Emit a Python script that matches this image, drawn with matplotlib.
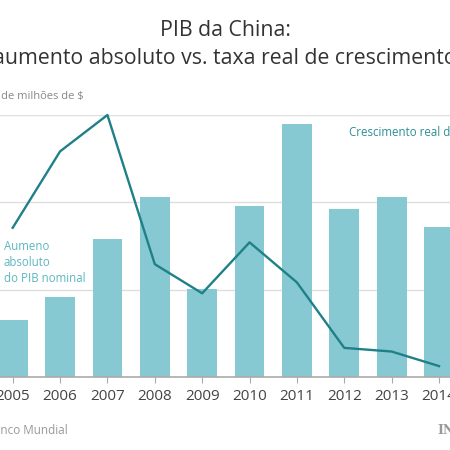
import numpy as np
from matplotlib import pyplot as plt

plt.rcParams['font.family'] = ['Open Sans', 'DejaVu Sans']

# dados
anos = ['2005', '2006', '2007', '2008', '2009', '2010', '2011', '2012', '2013', '2014']
aumento = [326, 460, 788, 1032, 502, 979, 1446, 962, 1032, 860]   # mil milhoes de $
crescimento = [11.1, 13.2, 14.2, 10.1, 9.3, 10.7, 9.6, 7.8, 7.7, 7.3]  # %

cor_barra = '#86c9d2'
cor_linha = '#1f8187'
W = 450.0

fig = plt.figure(figsize=(4.5, 4.5), dpi=100)
fig.patch.set_facecolor('white')

# eixos maiores que a figura (o original esta recortado)
px_l, px_r = 12.7 - 0.8 * 47.37, 439 + 0.8 * 47.37
ax = fig.add_axes([px_l / W, (W - 377) / W, (px_r - px_l) / W, 262 / W])
x = np.arange(len(anos))
ax.bar(x, aumento, width=0.63, color=cor_barra, zorder=2)
ax.set_xlim(-0.8, 9.8)
ax.set_ylim(0, 1500)
ax.set_yticks([500, 1000, 1500])
ax.yaxis.grid(True, color='#dedede', linewidth=1, zorder=0)
ax.tick_params(axis='y', length=0, labelleft=False)
ax.set_xticks(x)
ax.set_xticklabels(anos, fontsize=11, color='#444444')
ax.tick_params(axis='x', length=4, color='#aaaaaa', pad=5)
for s in ['top', 'left', 'right']:
    ax.spines[s].set_visible(False)
ax.spines['bottom'].set_color('#aaaaaa')
ax.spines['bottom'].set_linewidth(1.2)
ax.set_axisbelow(True)

ax2 = ax.twinx()
ax2.plot(x, crescimento, color=cor_linha, linewidth=1.7, zorder=3, clip_on=False)
ax2.set_ylim(7.0, 14.2)
ax2.set_yticks([])
for s in ['top', 'left', 'right', 'bottom']:
    ax2.spines[s].set_visible(False)

# textos
fig.text(225 / W, 1 - 30 / W, 'PIB da China:', ha='center', va='center',
         fontsize=15.3, color='#333333')
fig.text(225 / W, 1 - 58 / W, 'aumento absoluto vs. taxa real de crescimento',
         ha='center', va='center', fontsize=15.3, color='#333333')
fig.text(84 / W, 1 - 97 / W, 'Milhares de milhões de $', ha='right', va='center',
         fontsize=8, color='#888888')
fig.text(4 / W, 1 - 263 / W, 'Aumeno\nabsoluto\ndo PIB nominal', ha='left',
         va='center', fontsize=8.3, color='#5cb7c1', linespacing=1.3)
fig.text(349 / W, 1 - 132 / W, 'Crescimento real do PIB', ha='left',
         va='center', fontsize=8.3, color='#2a8f94')
fig.text(68 / W, 1 - 431 / W, 'Fonte: Banco Mundial', ha='right', va='center',
         fontsize=8.5, color='#999999')
fig.text(437 / W, 1 - 431 / W, 'IN', ha='left', va='center', fontsize=9,
         color='#999999', fontweight='bold', family='DejaVu Serif')

plt.savefig('out.png', dpi=100)
